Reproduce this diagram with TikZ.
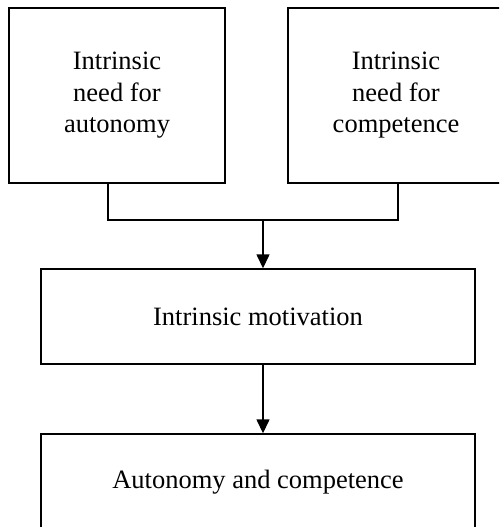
\documentclass[tikz,border=0pt]{standalone}
\usepackage{fontspec}
\setmainfont{Liberation Serif}
\usetikzlibrary{arrows.meta}
\begin{document}
\begin{tikzpicture}[x=1pt,y=1pt,
  boxstyle/.style={draw, line width=1.4pt, align=center, inner sep=0pt,
    font=\fontsize{26.5}{31.5}\selectfont},
  linkstyle/.style={line width=1.4pt},
  arrowstyle/.style={line width=1.4pt, -{Triangle[width=13pt,length=14pt]}}]
\useasboundingbox (0,0) rectangle (499,-527);
\clip (0,0) rectangle (499,-527);
\fill[white] (0,0) rectangle (499,-527);
\node[boxstyle, minimum width=216pt, minimum height=175pt] (lb) at (117,-95.5) {Intrinsic\\need for\\autonomy};
\node[boxstyle, minimum width=216pt, minimum height=175pt] (rb) at (396,-95.5) {Intrinsic\\need for\\competence};
\node[boxstyle, minimum width=434pt, minimum height=95pt] (mb) at (258,-316.5) {Intrinsic motivation};
\node[boxstyle, minimum width=434pt, minimum height=96pt] (bb) at (258,-482) {Autonomy and competence};
\coordinate (jl) at (108,-220);
\coordinate (jr) at (398,-220);
\coordinate (jm) at (263,-220);
\draw[linkstyle] (jl |- lb.south) -- (jl) -- (jr) -- (jr |- rb.south);
\draw[arrowstyle] (jm) -- (jm |- mb.north);
\draw[arrowstyle] (jm |- mb.south) -- (jm |- bb.north);
\end{tikzpicture}
\end{document}
